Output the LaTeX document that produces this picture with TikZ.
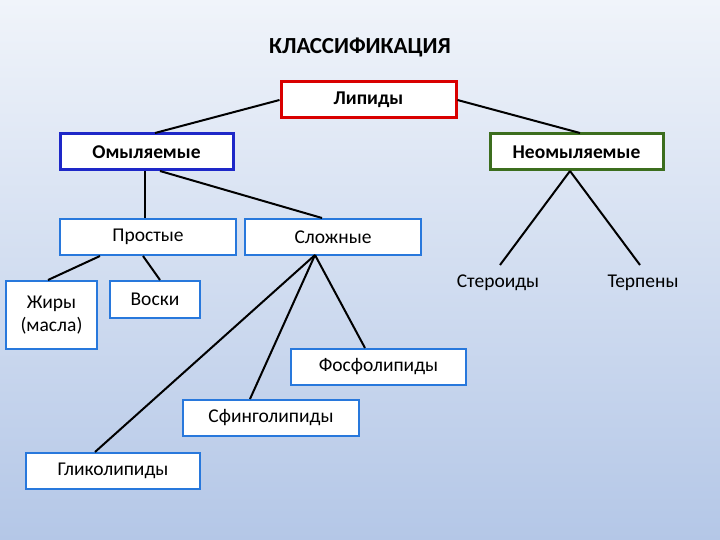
\documentclass[tikz,border=0pt]{standalone}
\usepackage{fontspec}
\setmainfont{Carlito}
\definecolor{cblue}{RGB}{30,40,200}
\definecolor{cgreen}{RGB}{60,110,30}
\definecolor{lblue}{RGB}{40,120,220}
\definecolor{bgtop}{RGB}{240,244,250}
\definecolor{bgbot}{RGB}{180,199,231}
\begin{document}
\begin{tikzpicture}[x=1pt,y=-1pt,
  bx/.style={draw=#1,fill=white,line width=2pt,inner sep=0pt,font=\fontsize{19.5}{23}\selectfont},
  hb/.style={draw=#1,fill=white,line width=3pt,inner sep=0pt,font=\bfseries\fontsize{19.5}{23}\selectfont},
  tx/.style={inner sep=1pt,font=\fontsize{19.5}{23}\selectfont},
  ln/.style={line width=2pt,black}]
\shade[top color=bgtop,bottom color=bgbot] (0,0) rectangle (720,540);
\useasboundingbox (0,0) rectangle (720,540);
\node[font=\bfseries\fontsize{23}{27}\selectfont] (title) at (360,47) {КЛАССИФИКАЦИЯ};
\node[hb=red!85!black,minimum width=175pt,minimum height=36pt] (lip) at (368.5,100) {Липиды};
\node[hb=cblue,minimum width=173pt,minimum height=36pt] (om) at (146.5,152) {Омыляемые};
\node[hb=cgreen,minimum width=173pt,minimum height=36pt] (neom) at (576.5,152) {Неомыляемые};
\node[bx=lblue,minimum width=176pt,minimum height=36pt] (pr) at (148,237) {};
\node[tx] (prt) at (148,237) {Простые};
\node[bx=lblue,minimum width=176pt,minimum height=36pt] (sl) at (333,237) {Сложные};
\node[bx=lblue,minimum width=91pt,minimum height=68pt,align=center] (zh) at (51.5,315) {Жиры\\(масла)};
\node[bx=lblue,minimum width=90pt,minimum height=37pt] (vo) at (155,299.5) {Воски};
\node[tx] (st) at (498,283) {Стероиды};
\node[tx] (te) at (643,283) {Терпены};
\node[bx=lblue,minimum width=175pt,minimum height=36pt] (fo) at (378.5,367) {Фосфолипиды};
\node[bx=lblue,minimum width=176pt,minimum height=36pt] (sf) at (271,418) {Сфинголипиды};
\node[bx=lblue,minimum width=174pt,minimum height=36pt] (gl) at (113,471) {Гликолипиды};
\coordinate (s0) at (315,255);
\draw[ln] (lip.west) -- (155,133);
\draw[ln] (lip.east) -- (580,133);
\draw[ln] (145,171) -- (145,218);
\draw[ln] (160,171) -- (322,218);
\draw[ln] (100,256) -- (48,280);
\draw[ln] (143,256) -- (160,280);
\draw[ln] (570,171) -- (500,265);
\draw[ln] (570,171) -- (640,265);
\draw[ln] (s0) -- (365,348);
\draw[ln] (s0) -- (250,399);
\draw[ln] (s0) -- (95,452);
\end{tikzpicture}
\end{document}
